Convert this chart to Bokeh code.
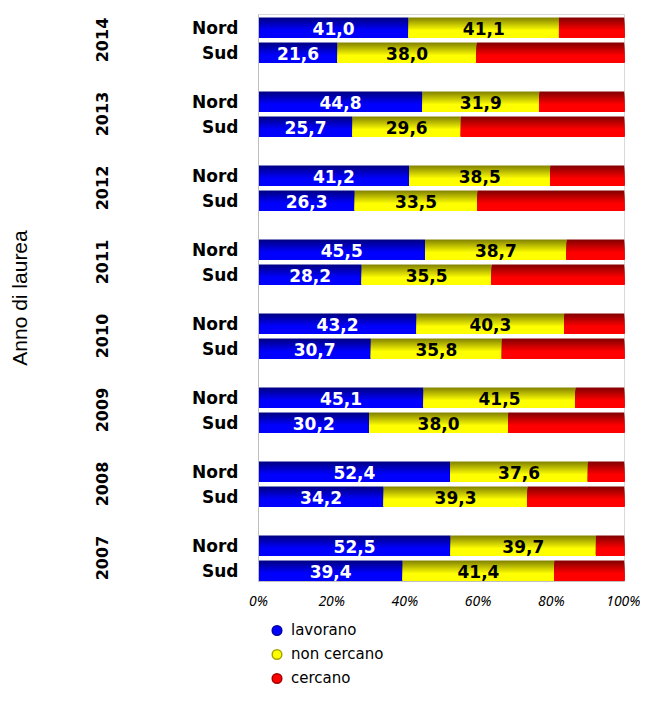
from bokeh.plotting import figure
from bokeh.layouts import column
from bokeh.models import (Range1d, FixedTicker, LinearAxis, Legend, LegendItem,
                          ColumnDataSource, PrintfTickFormatter)
from bokeh.core.properties import value
from bokeh.transform import dodge
from bokeh.embed import file_html
from bokeh.resources import INLINE

# ---------------- data ----------------
years = ["2014", "2013", "2012", "2011", "2010", "2009", "2008", "2007"]
regions = ["Nord", "Sud"]
nord_lavorano = [41.0, 44.8, 41.2, 45.5, 43.2, 45.1, 52.4, 52.5]
nord_non_cercano = [41.1, 31.9, 38.5, 38.7, 40.3, 41.5, 37.6, 39.7]
sud_lavorano = [21.6, 25.7, 26.3, 28.2, 30.7, 30.2, 34.2, 39.4]
sud_non_cercano = [38.0, 29.6, 33.5, 35.5, 35.8, 38.0, 39.3, 41.4]
series_names = ["lavorano", "non cercano", "cercano"]
x_ticks = [0, 20, 40, 60, 80, 100]

# ---------------- layout / style ----------------
ROW_PITCH = 25
GROUP_PITCH = 74
BAR_H = 20
N_STRIPS = 10
dark_colors = [(0, 0, 128), (128, 128, 0), (128, 0, 0)]
bright_colors = [(0, 0, 255), (255, 255, 0), (255, 0, 0)]

def hexcol(c):
    return "#%02x%02x%02x" % tuple(int(round(v)) for v in c)

def mix(a, b, f):
    return hexcol(tuple(a[i] + (b[i] - a[i]) * f for i in range(3)))

# build table
ys, lefts, rights, labels = [], [[], [], []], [[], [], []], [[], []]
mids = [[], []]
tick_map = {}
group_map = {}
for g, yr in enumerate(years):
    lav_vals = [nord_lavorano[g], sud_lavorano[g]]
    non_vals = [nord_non_cercano[g], sud_non_cercano[g]]
    for r, reg in enumerate(regions):
        y = -(g * GROUP_PITCH + r * ROW_PITCH)
        lav, non = lav_vals[r], non_vals[r]
        cer = 100 - lav - non
        ys.append(y)
        tick_map[y] = reg
        bounds = [0, lav, lav + non, lav + non + cer]
        for s in range(3):
            lefts[s].append(bounds[s])
            rights[s].append(bounds[s + 1])
        mids[0].append(lav / 2)
        mids[1].append(lav + non / 2)
        labels[0].append(("%.1f" % lav).replace(".", ","))
        labels[1].append(("%.1f" % non).replace(".", ","))
    group_map[-(g * GROUP_PITCH + ROW_PITCH / 2)] = yr

data = dict(y=ys)
for s in range(3):
    data["l%d" % s] = lefts[s]
    data["r%d" % s] = rights[s]
data["m0"], data["m1"] = mids
data["t0"], data["t1"] = labels
src = ColumnDataSource(data)

y_top = 13
y_bot = -(len(years) - 1) * GROUP_PITCH - ROW_PITCH - 11

p = figure(width=640, height=612, x_range=Range1d(0, 100),
           y_range=Range1d(y_bot, y_top),
           output_backend="svg", toolbar_location=None,
           min_border_left=258, min_border_right=16,
           min_border_top=14, min_border_bottom=31)
p.xgrid.visible = False
p.ygrid.visible = False
p.outline_line_color = "#d9d9d9"
p.background_fill_color = "white"
p.border_fill_color = "white"

# bars with vertical gradient: each strip spans from its top down to the bar bottom
for s in range(3):
    for k in range(N_STRIPS):
        t = (k + 0.5) / N_STRIPS
        f = min(1.0, t / 0.65)
        col = mix(dark_colors[s], bright_colors[s], f)
        top = BAR_H / 2 - k * BAR_H / N_STRIPS
        bot = -BAR_H / 2
        p.hbar(y=dodge("y", (top + bot) / 2), left="l%d" % s, right="r%d" % s,
               height=top - bot, fill_color=col,
               line_color=None, source=src)

# value labels
p.text(x="m0", y="y", text="t0", source=src, text_align="center",
       text_baseline="middle", text_color="white", y_offset=1,
       text_font=value("DejaVu Sans"), text_font_style="bold",
       text_font_size="17px")
p.text(x="m1", y="y", text="t1", source=src, text_align="center",
       text_baseline="middle", text_color="black", y_offset=1,
       text_font=value("DejaVu Sans"), text_font_style="bold",
       text_font_size="17px")

# y axis (Nord / Sud)
ya = p.yaxis[0]
ya.ticker = FixedTicker(ticks=ys)
ya.major_label_overrides = tick_map
ya.major_tick_out = 0
ya.major_tick_in = 0
ya.minor_tick_out = 0
ya.minor_tick_in = 0
ya.major_tick_line_color = None
ya.minor_tick_line_color = None
ya.axis_line_color = "#bfbfbf"
ya.major_label_standoff = 20
ya.major_label_text_font = "DejaVu Sans"
ya.major_label_text_font_style = "bold"
ya.major_label_text_font_size = "17px"
ya.major_label_text_color = "black"

# year axis
ya2 = LinearAxis(ticker=FixedTicker(ticks=list(group_map.keys())),
                 major_label_overrides=group_map)
ya2.major_tick_out = 0
ya2.major_tick_in = 0
ya2.minor_tick_out = 0
ya2.minor_tick_in = 0
ya2.major_tick_line_color = None
ya2.minor_tick_line_color = None
ya2.axis_line_color = None
ya2.major_label_standoff = 82
ya2.major_label_orientation = "parallel"
ya2.major_label_text_font = "DejaVu Sans"
ya2.major_label_text_font_style = "bold"
ya2.major_label_text_font_size = "16px"
ya2.major_label_text_color = "black"
ya2.axis_label = "Anno di laurea"
ya2.axis_label_standoff = 62
ya2.axis_label_text_font = "Liberation Sans"
ya2.axis_label_text_font_style = "normal"
ya2.axis_label_text_font_size = "21px"
ya2.axis_label_text_color = "black"
p.add_layout(ya2, "left")

# x axis
xa = p.xaxis[0]
xa.ticker = FixedTicker(ticks=x_ticks)
xa.formatter = PrintfTickFormatter(format="%d%%")
xa.major_tick_out = 0
xa.major_tick_in = 0
xa.minor_tick_out = 0
xa.minor_tick_in = 0
xa.major_tick_line_color = None
xa.minor_tick_line_color = None
xa.axis_line_color = "#bfbfbf"
xa.major_label_standoff = 9
xa.major_label_text_font = "Noto Sans"
xa.major_label_text_font_style = "italic"
xa.major_label_text_font_size = "14px"
xa.major_label_text_color = "black"

# legend in a small figure below
q = figure(width=640, height=74, x_range=Range1d(0, 1), y_range=Range1d(0, 1),
           output_backend="svg", toolbar_location=None,
           x_axis_type=None, y_axis_type=None,
           min_border_left=258, min_border_right=0,
           min_border_top=0, min_border_bottom=0)
q.outline_line_color = None
q.background_fill_color = "white"
q.border_fill_color = "white"
items = []
for s, name in enumerate(series_names):
    r = q.scatter(x=[-5], y=[-5], marker="circle", size=10,
                  fill_color=hexcol(bright_colors[s]),
                  line_color=mix(dark_colors[s], bright_colors[s], 0.3),
                  line_width=1.5)
    items.append(LegendItem(label=name, renderers=[r]))
legend = Legend(items=items, location="top_left", orientation="vertical",
                glyph_width=25, glyph_height=24, label_height=24,
                spacing=0, padding=0, margin=6, label_standoff=2,
                border_line_color=None, background_fill_alpha=0,
                label_text_font="DejaVu Sans", label_text_font_size="15px",
                label_text_color="black")
q.add_layout(legend)

layout = column(p, q, spacing=0)
open("out.html", "w").write(file_html(layout, INLINE))
